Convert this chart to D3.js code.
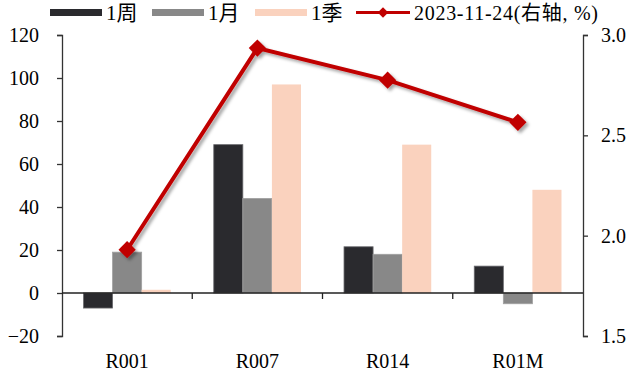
<!DOCTYPE html>
<html>
<head>
<meta charset="utf-8">
<script src="https://cdn.jsdelivr.net/npm/d3@7"></script>
<style>
  body { margin: 0; background: #fff; }
  text { font-family: "Liberation Serif", "Noto Sans CJK SC", serif; fill: #000; }
</style>
</head>
<body>
<script>
// data
var categories = ["R001", "R007", "R014", "R01M"];
var seriesNames = ["1周", "1月", "1季"];
var week = [-7, 69, 21.5, 12.5];
var month = [19, 44, 18, -5];
var quarter = [1.5, 97, 69, 48];
var rate = [1.93, 2.935, 2.775, 2.565];
var lineName = "2023-11-24(右轴, %)";
var leftTicks = [-20, 0, 20, 40, 60, 80, 100, 120];
var rightTicks = [1.5, 2.0, 2.5, 3.0];

var colors = ["#2a2a2e", "#888888", "#fad2be"];
var lineColor = "#c00000";

var w = 628, h = 376;
var pL = 62, pR = 583, pT = 35, pB = 336;

var svg = d3.select("body").append("svg")
    .attr("width", w)
    .attr("height", h);

var defs = svg.append("defs");
var f = defs.append("filter").attr("id", "shadow")
    .attr("x", "-20%").attr("y", "-20%").attr("width", "140%").attr("height", "140%");
f.append("feDropShadow")
    .attr("dx", 2.5).attr("dy", 2.5).attr("stdDeviation", 1.4)
    .attr("flood-color", "#000").attr("flood-opacity", 0.35);

var x0 = d3.scaleBand().domain(categories).range([pL, pR]);
var x1 = d3.scaleBand().domain(seriesNames).range([0, x0.bandwidth()])
    .paddingInner(0).paddingOuter(0.74);
var yL = d3.scaleLinear().domain([-20, 120]).range([pB, pT]);
var yR = d3.scaleLinear().domain([1.5, 3.0]).range([pB, pT]);

var rows = categories.map(function(c, i) {
    return { cat: c, vals: [week[i], month[i], quarter[i]] };
});

// bars
var groups = svg.selectAll("g.grp")
    .data(rows)
    .enter().append("g")
    .attr("class", "grp")
    .attr("transform", function(d) { return "translate(" + x0(d.cat) + ",0)"; });

groups.selectAll("rect")
    .data(function(d) { return d.vals.map(function(v, j) { return { s: seriesNames[j], v: v, j: j }; }); })
    .enter().append("rect")
    .attr("x", function(d) { return x1(d.s); })
    .attr("width", x1.bandwidth())
    .attr("y", function(d) { return yL(Math.max(0, d.v)); })
    .attr("height", function(d) { return Math.abs(yL(d.v) - yL(0)); })
    .style("fill", function(d) { return colors[d.j]; })
    .style("stroke", function(d) { return d.j == 0 ? "#6a6a6e" : (d.j == 1 ? "#a0a0a0" : "none"); })
    .style("stroke-width", 0.8);

// left axis
var axL = svg.append("g")
    .attr("transform", "translate(" + pL + ",0)")
    .call(d3.axisLeft(yL).tickValues(leftTicks).tickSize(5).tickPadding(18).tickFormat(d3.format("d")));
axL.select(".domain").attr("stroke", "#333").attr("stroke-width", 1.3);
axL.selectAll(".tick line").attr("stroke", "#333").attr("stroke-width", 1.3);
axL.selectAll("text").style("font-size", "20px").attr("fill", "#000");

// right axis
var axR = svg.append("g")
    .attr("transform", "translate(" + pR + ",0)")
    .call(d3.axisRight(yR).tickValues(rightTicks).tickSize(5).tickPadding(13).tickFormat(d3.format(".1f")));
axR.select(".domain").attr("stroke", "#333").attr("stroke-width", 1.3);
axR.selectAll(".tick line").attr("stroke", "#333").attr("stroke-width", 1.3);
axR.selectAll("text").style("font-size", "20px").attr("fill", "#000");

// zero line with category ticks
var z = yL(0);
svg.append("line")
    .attr("x1", pL).attr("x2", pR)
    .attr("y1", z).attr("y2", z)
    .attr("stroke", "#222").attr("stroke-width", 1.5);
svg.selectAll("line.ctick")
    .data(categories.slice(1))
    .enter().append("line")
    .attr("class", "ctick")
    .attr("x1", function(d) { return x0(d); })
    .attr("x2", function(d) { return x0(d); })
    .attr("y1", z).attr("y2", z + 6)
    .attr("stroke", "#222").attr("stroke-width", 1.3);

// category labels
svg.selectAll("text.cat")
    .data(categories)
    .enter().append("text")
    .attr("class", "cat")
    .attr("x", function(d) { return x0(d) + x0.bandwidth() / 2; })
    .attr("y", 368)
    .attr("text-anchor", "middle")
    .style("font-size", "20px")
    .text(function(d) { return d; });

// line on right axis
var line = d3.line()
    .x(function(d, i) { return x0(categories[i]) + x0.bandwidth() / 2; })
    .y(function(d) { return yR(d); });

var lg = svg.append("g").attr("filter", "url(#shadow)");
lg.append("path")
    .datum(rate)
    .attr("d", line)
    .attr("fill", "none")
    .attr("stroke", lineColor)
    .attr("stroke-width", 4);
lg.selectAll("path.mk")
    .data(rate)
    .enter().append("path")
    .attr("class", "mk")
    .attr("d", d3.symbol().type(d3.symbolDiamond2).size(190))
    .attr("transform", function(d, i) {
        return "translate(" + (x0(categories[i]) + x0.bandwidth() / 2) + "," + yR(d) + ")";
    })
    .attr("fill", lineColor);

// legend
var legX = [50, 152, 255];
var leg = svg.append("g");
seriesNames.forEach(function(s, i) {
    leg.append("rect")
        .attr("x", legX[i]).attr("y", 9)
        .attr("width", 52).attr("height", 7)
        .style("fill", colors[i]);
    leg.append("text")
        .attr("x", legX[i] + 56).attr("y", 20)
        .style("font-size", "21px")
        .text(s);
});
leg.append("line")
    .attr("x1", 356).attr("x2", 410)
    .attr("y1", 12.5).attr("y2", 12.5)
    .attr("stroke", lineColor).attr("stroke-width", 3);
leg.append("path")
    .attr("d", d3.symbol().type(d3.symbolDiamond2).size(70))
    .attr("transform", "translate(383,12.5)")
    .attr("fill", lineColor);
leg.append("text")
    .attr("x", 414).attr("y", 20)
    .style("font-size", "20px")
    .attr("textLength", 184)
    .text(lineName);
</script>
</body>
</html>
